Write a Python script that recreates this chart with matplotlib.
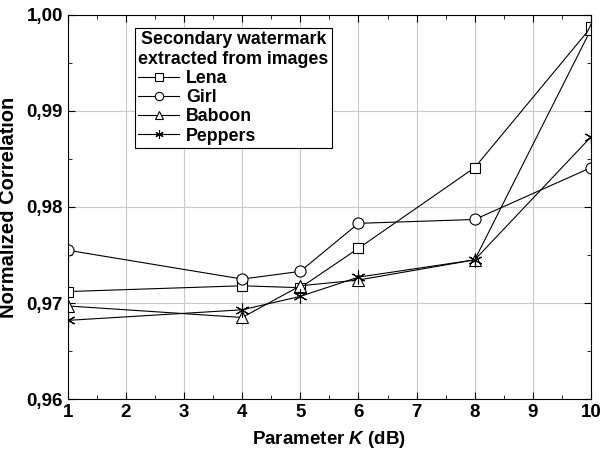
import matplotlib
matplotlib.use('Agg')
import matplotlib.pyplot as plt
from matplotlib.ticker import MultipleLocator, FuncFormatter

plt.rcParams['font.family'] = ['Liberation Sans', 'DejaVu Sans']
plt.rcParams['mathtext.fontset'] = 'custom'
plt.rcParams['mathtext.it'] = 'Liberation Sans:italic:bold'
plt.rcParams['mathtext.rm'] = 'Liberation Sans:bold'

k = [1, 4, 5, 6, 8, 10]
lena = [0.9712, 0.9718, 0.9716, 0.9757, 0.9841, 0.9987]
girl = [0.9755, 0.9725, 0.9733, 0.9783, 0.9787, 0.9841]
baboon = [0.9697, 0.9685, 0.9718, 0.9724, 0.9745, 0.9985]
peppers = [0.9682, 0.9693, 0.9707, 0.9727, 0.9745, 0.9873]

fig = plt.figure(figsize=(6, 4.5), dpi=100)
ax = fig.add_axes([0.113, 0.113, 0.872, 0.854])

style = dict(color='black', linewidth=0.8, markerfacecolor='white',
             markeredgecolor='black', markeredgewidth=0.8)
ax.plot(k, lena, marker='s', markersize=7, label='Lena', **style)
ax.plot(k, girl, marker='o', markersize=8, label='Girl', **style)
ax.plot(k, baboon, marker='^', markersize=8, label='Baboon', **style)
ax.plot(k, peppers, marker=(6, 2, 0), markersize=10, label='Peppers', **style)

ax.set_xlim(1, 10)
ax.set_ylim(0.96, 1.00)
ax.xaxis.set_major_locator(MultipleLocator(1))
ax.xaxis.set_minor_locator(MultipleLocator(0.5))
ax.yaxis.set_major_locator(MultipleLocator(0.01))
ax.yaxis.set_minor_locator(MultipleLocator(0.005))
ax.yaxis.set_major_formatter(FuncFormatter(lambda v, p: ('%.2f' % v).replace('.', ',')))
ax.grid(True, which='major', color='#c8c8c8', linewidth=0.8)
ax.tick_params(which='both', direction='in', top=True, right=True, labelsize=13.5)
ax.tick_params(which='major', length=5)
ax.tick_params(which='minor', length=3)
for lab in ax.get_xticklabels() + ax.get_yticklabels():
    lab.set_fontweight('bold')

ax.set_xlabel('Parameter $K$ (dB)', fontsize=13.5, fontweight='bold', labelpad=6)
ax.set_ylabel('Normalized Correlation', fontsize=14.5, fontweight='bold', labelpad=6)

leg = ax.legend(loc='upper left', bbox_to_anchor=(0.128, 0.966),
                title='Secondary watermark\nextracted from images',
                prop={'size': 12.8, 'weight': 'bold'}, fancybox=False,
                edgecolor='black', framealpha=1, handlelength=2.3,
                labelspacing=0.12, borderpad=0.2, handletextpad=0.4,
                borderaxespad=0, alignment='left')
leg.get_title().set_fontweight('bold')
leg.get_title().set_fontsize(12.8)
leg.get_title().set_multialignment('center')
leg.get_frame().set_linewidth(0.8)
for h in leg.legend_handles:
    h.set_markersize(6)

fig.savefig('out.png', dpi=100)
